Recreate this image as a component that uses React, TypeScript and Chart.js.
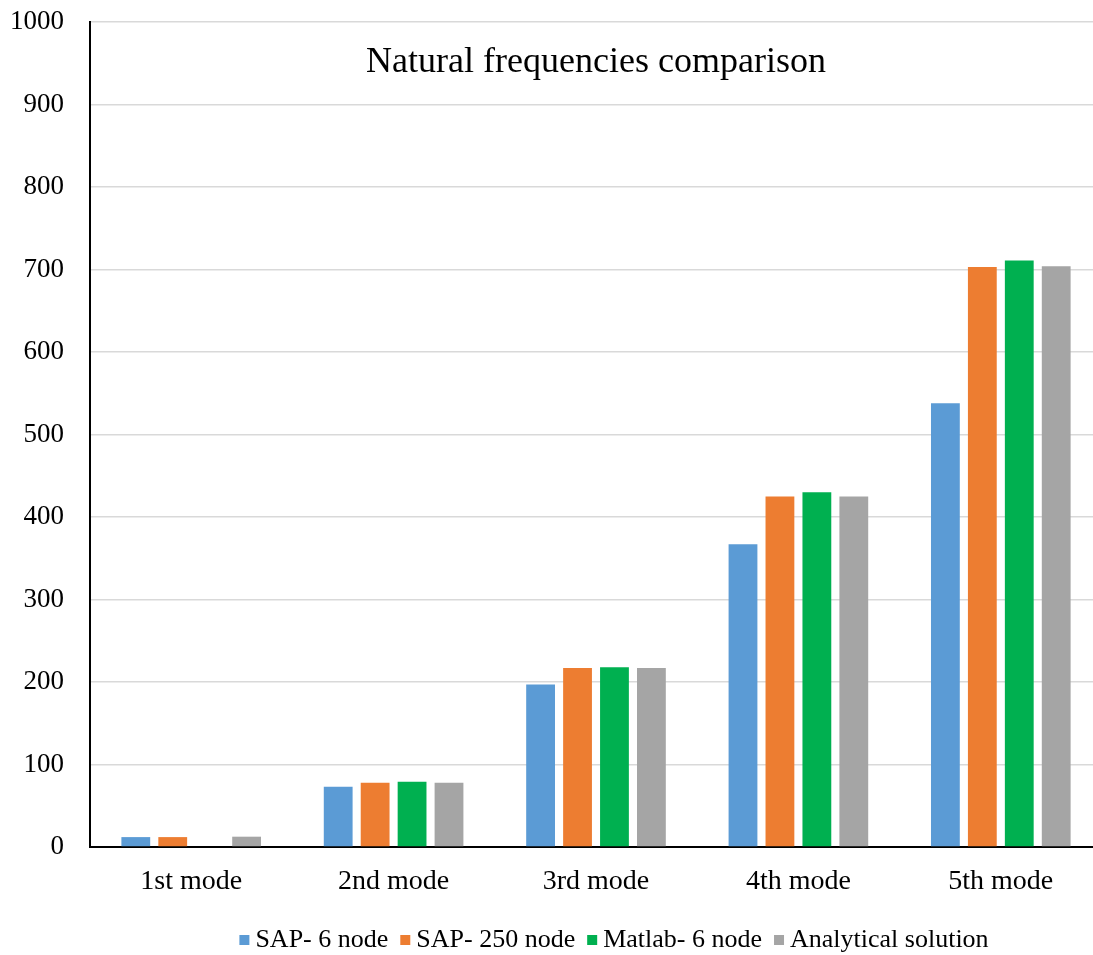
import React, { useEffect, useRef } from "react";
import { Chart, registerables } from "chart.js";

Chart.register(...registerables);

const modes = ["1st mode", "2nd mode", "3rd mode", "4th mode", "5th mode"];
const sap6Node = [12, 73, 197, 367, 538];
const sap250Node = [12, 78, 217, 425, 703];
const matlab6Node = [null, 79, 218, 430, 711];
const analytical = [12.5, 78, 217, 425, 704];
const yTicks = [0, 100, 200, 300, 400, 500, 600, 700, 800, 900, 1000];

const FONT = '"Liberation Serif", "Times New Roman", serif';

const titlePlugin = {
  id: "innerTitle",
  afterDraw(chart: any) {
    const { ctx, chartArea } = chart;
    ctx.save();
    ctx.font = `36px ${FONT}`;
    ctx.fillStyle = "#000";
    ctx.textAlign = "center";
    ctx.textBaseline = "middle";
    ctx.fillText("Natural frequencies comparison", (chartArea.left + chartArea.right) / 2, 63);
    ctx.restore();
  },
};

const legendPlugin = {
  id: "bottomLegend",
  afterDraw(chart: any) {
    const { ctx } = chart;
    const datasets = chart.data.datasets;
    ctx.save();
    ctx.font = `26px ${FONT}`;
    ctx.textBaseline = "middle";
    const box = 10;
    const gapBox = 6;
    const gapItem = 12;
    const widths = datasets.map((d: any) => ctx.measureText(d.label).width);
    const total =
      widths.reduce((a: number, b: number) => a + b, 0) +
      datasets.length * (box + gapBox) +
      (datasets.length - 1) * gapItem;
    let x = 614 - total / 2;
    const y = 940;
    datasets.forEach((d: any, i: number) => {
      ctx.fillStyle = d.backgroundColor;
      ctx.fillRect(x, y - box / 2, box, box);
      x += box + gapBox;
      ctx.fillStyle = "#000";
      ctx.textAlign = "left";
      ctx.fillText(d.label, x, y);
      x += widths[i] + gapItem;
    });
    ctx.restore();
  },
};

export default function App() {
  const canvasRef = useRef<HTMLCanvasElement | null>(null);

  useEffect(() => {
    const canvas = canvasRef.current;
    if (!canvas) return;
    const common = {
      categoryPercentage: 0.73,
      barPercentage: 0.78,
      borderWidth: 0,
    };
    const chart = new Chart(canvas, {
      type: "bar",
      data: {
        labels: modes,
        datasets: [
          { label: "SAP- 6 node", data: sap6Node, backgroundColor: "#5B9BD5", ...common },
          { label: "SAP- 250 node", data: sap250Node, backgroundColor: "#ED7D31", ...common },
          { label: "Matlab- 6 node", data: matlab6Node, backgroundColor: "#00B050", ...common },
          { label: "Analytical solution", data: analytical, backgroundColor: "#A5A5A5", ...common },
        ],
      },
      options: {
        responsive: false,
        animation: false,
        devicePixelRatio: 1,
        layout: { padding: { top: 22, left: 0, right: 0, bottom: 48 } },
        plugins: {
          legend: { display: false },
          title: { display: false },
          tooltip: { enabled: false },
        },
        scales: {
          x: {
            grid: { display: false, drawTicks: false },
            border: { display: true, color: "#000", width: 2 },
            ticks: {
              color: "#000",
              font: { family: FONT, size: 28 },
              padding: 18,
            },
            afterFit: (s: any) => {
              s.height = 60;
              s.paddingLeft = 0;
              s.paddingRight = 0;
            },
          },
          y: {
            min: 0,
            max: 1000,
            afterBuildTicks: (s: any) => {
              s.ticks = yTicks.map((v) => ({ value: v }));
            },
            grid: { color: "#D9D9D9", lineWidth: 1.5, drawTicks: false },
            border: { display: true, color: "#000", width: 2 },
            ticks: {
              color: "#000",
              font: { family: FONT, size: 27 },
              padding: 26,
              callback: (v: any) => String(v),
            },
            afterFit: (s: any) => {
              s.width = 90;
              s.paddingTop = 0;
              s.paddingBottom = 0;
            },
          },
        },
      },
      plugins: [titlePlugin, legendPlugin],
    });
    return () => chart.destroy();
  }, []);

  return (
    <div
      style={{
        position: "absolute",
        left: 0,
        top: 0,
        width: 1093,
        height: 955,
        overflow: "hidden",
        background: "#fff",
      }}
    >
      <canvas ref={canvasRef} width={1102} height={955} style={{ display: "block" }} />
    </div>
  );
}
